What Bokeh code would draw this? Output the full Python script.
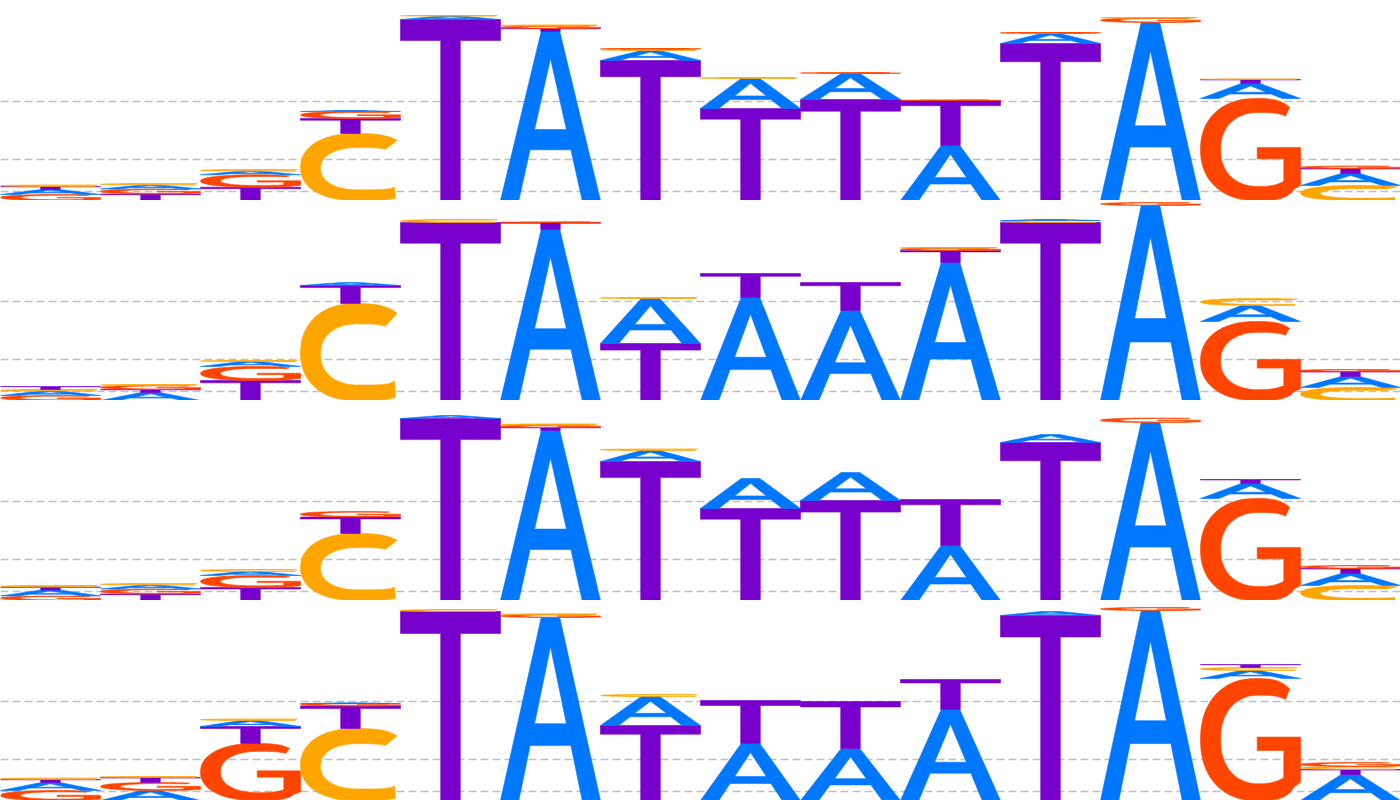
import numpy as np
from bokeh.plotting import figure
from bokeh.models import ColumnDataSource, Range1d, FixedTicker
from bokeh.layouts import column
from bokeh.embed import file_html
from bokeh.resources import INLINE

# ---------------- data (heights in bits, listed bottom -> top) ----------------
positions = list(range(1, 15))
grid_bits = [0.09, 0.41, 0.99]
letter_colors = {"A": "#0077ff", "C": "#ffa500", "G": "#ff4500", "T": "#7700cc"}

row1 = [
    [("G", 0.06), ("A", 0.05), ("T", 0.03), ("C", 0.015)],
    [("T", 0.065), ("G", 0.05), ("A", 0.04), ("C", 0.015)],
    [("T", 0.133), ("G", 0.124), ("A", 0.037), ("C", 0.015)],
    [("C", 0.67), ("T", 0.15), ("G", 0.07), ("A", 0.01)],
    [("T", 1.81), ("A", 0.035), ("C", 0.005)],
    [("A", 1.69), ("T", 0.03), ("G", 0.025), ("C", 0.01)],
    [("T", 1.40), ("A", 0.10), ("C", 0.015), ("G", 0.005)],
    [("T", 0.92), ("A", 0.30), ("C", 0.01)],
    [("T", 1.01), ("A", 0.26), ("G", 0.01)],
    [("A", 0.55), ("T", 0.45), ("G", 0.005)],
    [("T", 1.57), ("A", 0.10), ("C", 0.005), ("G", 0.005)],
    [("A", 1.78), ("G", 0.045), ("C", 0.005)],
    [("G", 1.02), ("A", 0.15), ("T", 0.04), ("C", 0.005)],
    [("C", 0.15), ("A", 0.12), ("T", 0.05), ("G", 0.025)],
]

row2 = [
    [("G", 0.05), ("A", 0.045), ("C", 0.015), ("T", 0.03)],
    [("A", 0.08), ("T", 0.03), ("G", 0.04), ("C", 0.01)],
    [("T", 0.20), ("G", 0.14), ("A", 0.05), ("C", 0.01)],
    [("C", 0.97), ("T", 0.18), ("A", 0.03)],
    [("T", 1.78), ("C", 0.03)],
    [("A", 1.71), ("T", 0.07), ("G", 0.005)],
    [("T", 0.57), ("A", 0.45), ("C", 0.01)],
    [("A", 1.03), ("T", 0.24)],
    [("A", 0.90), ("T", 0.28)],
    [("A", 1.38), ("T", 0.12), ("G", 0.025), ("C", 0.005)],
    [("T", 1.78), ("C", 0.02), ("A", 0.01)],
    [("A", 1.95), ("G", 0.03)],
    [("G", 0.79), ("A", 0.16), ("C", 0.07)],
    [("C", 0.13), ("A", 0.11), ("T", 0.05), ("G", 0.02)],
]

row3 = [
    [("G", 0.045), ("A", 0.06), ("T", 0.03), ("C", 0.015)],
    [("T", 0.065), ("G", 0.05), ("A", 0.04), ("C", 0.015)],
    [("T", 0.13), ("G", 0.12), ("A", 0.04), ("C", 0.02)],
    [("C", 0.67), ("T", 0.165), ("G", 0.055)],
    [("T", 1.82), ("A", 0.03)],
    [("A", 1.70), ("T", 0.03), ("G", 0.025), ("C", 0.01)],
    [("T", 1.39), ("A", 0.11), ("C", 0.015)],
    [("T", 0.92), ("A", 0.30)],
    [("T", 1.00), ("A", 0.28)],
    [("A", 0.55), ("T", 0.46)],
    [("T", 1.58), ("A", 0.08)],
    [("A", 1.78), ("G", 0.045)],
    [("G", 1.02), ("A", 0.15), ("T", 0.04)],
    [("C", 0.15), ("A", 0.12), ("T", 0.05), ("G", 0.03)],
]

row4 = [
    [("G", 0.10), ("A", 0.08), ("T", 0.03), ("C", 0.015)],
    [("A", 0.10), ("G", 0.08), ("T", 0.05), ("C", 0.01)],
    [("G", 0.57), ("T", 0.17), ("A", 0.06), ("C", 0.015)],
    [("C", 0.72), ("T", 0.225), ("G", 0.025), ("A", 0.005)],
    [("T", 1.89), ("C", 0.02)],
    [("A", 1.83), ("G", 0.03), ("C", 0.005)],
    [("T", 0.75), ("A", 0.29), ("C", 0.02)],
    [("A", 0.57), ("T", 0.43)],
    [("A", 0.52), ("T", 0.47)],
    [("A", 0.91), ("T", 0.30)],
    [("T", 1.85), ("A", 0.04)],
    [("A", 1.90), ("G", 0.03)],
    [("G", 1.22), ("A", 0.08), ("C", 0.03), ("T", 0.03)],
    [("A", 0.26), ("T", 0.05), ("C", 0.03), ("G", 0.04)],
]

rows = [row1, row2, row3, row4]


# ---------------- letter outlines in a unit box ----------------
def se_arc(cx, cy, rxl, rxr, ryt, ryb, n_q, a0, a1, steps=60):
    """Superellipse arc with per-quadrant radii / exponents (n_q = TR, TL, BL, BR)."""
    pts = []
    for t in np.radians(np.linspace(a0, a1, steps)):
        c, s = np.cos(t), np.sin(t)
        if c >= 0 and s >= 0:
            n, rx, ry = n_q[0], rxr, ryt
        elif c < 0 and s >= 0:
            n, rx, ry = n_q[1], rxl, ryt
        elif c < 0 and s < 0:
            n, rx, ry = n_q[2], rxl, ryb
        else:
            n, rx, ry = n_q[3], rxr, ryb
        e = 2.0 / n
        pts.append((cx + rx * np.sign(c) * abs(c) ** e,
                    cy + ry * np.sign(s) * abs(s) ** e))
    return pts


def angle_for_u(u, cx, rx, n):
    return np.degrees(np.arccos(((u - cx) / rx) ** (n / 2.0)))


def letter_rings(letter):
    if letter == "T":
        ext = [(0, 1), (1, 1), (1, 0.884), (0.598, 0.884), (0.598, 0),
               (0.402, 0), (0.402, 0.884), (0, 0.884)]
        return [ext]
    if letter == "A":
        ext = [(0, 0), (0.407, 1), (0.593, 1), (1, 0), (0.817, 0),
               (0.704, 0.30), (0.296, 0.30), (0.183, 0)]
        hole = [(0.341, 0.42), (0.659, 0.42), (0.5, 0.84)]
        return [ext, hole]
    if letter == "C":
        o_top = angle_for_u(0.967, 0.55, 0.55, 2.8)
        o_bot = angle_for_u(0.95, 0.55, 0.55, 4.2)
        outer = se_arc(0.55, 0.49, 0.55, 0.55, 0.51, 0.49, (2.8, 2.2, 2.2, 4.2),
                       o_top, 360 - o_bot)
        i_top = angle_for_u(0.85, 0.575, 0.42, 3.4)
        i_bot = angle_for_u(0.94, 0.575, 0.42, 5.0)
        inner = se_arc(0.575, 0.48, 0.375, 0.42, 0.31, 0.32, (3.4, 2.2, 2.2, 5.0),
                       360 - i_bot, i_top)
        return [outer + inner]
    if letter == "G":
        o_top = angle_for_u(0.967, 0.55, 0.55, 3.0)
        outer = se_arc(0.55, 0.5, 0.55, 0.45, 0.5, 0.5, (3.0, 2.2, 2.2, 3.5),
                       o_top, 320)
        bar = [(1.0, 0.15), (1.0, 0.52), (0.567, 0.52), (0.567, 0.41), (0.833, 0.41)]
        i_bot = angle_for_u(0.833, 0.58, 0.40, 2.5)
        i_top = angle_for_u(0.85, 0.58, 0.40, 3.2)
        inner = se_arc(0.58, 0.5, 0.38, 0.40, 0.363, 0.363, (3.2, 2.2, 2.2, 2.5),
                       360 - i_bot, i_top)
        return [outer + bar + inner]
    return []


shapes = {k: letter_rings(k) for k in "ACGT"}


def build_source(stacks):
    xs, ys, cols = [], [], []
    for pos, stack in zip(positions, stacks):
        base = 0.0
        for letter, h in stack:
            rings_x, rings_y = [], []
            for ring in shapes[letter]:
                rings_x.append([pos - 0.5 + u for u, v in ring])
                rings_y.append([base + v * h for u, v in ring])
            xs.append([rings_x])
            ys.append([rings_y])
            cols.append(letter_colors[letter])
            base += h
    return ColumnDataSource(dict(xs=xs, ys=ys, color=cols))


figs = []
for stacks in rows:
    p = figure(width=1400, height=200, x_range=Range1d(0.5, 14.5),
               y_range=Range1d(0, 2.0), output_backend="svg",
               toolbar_location=None, min_border=0)
    p.xaxis.visible = False
    p.yaxis.visible = False
    p.xgrid.visible = False
    p.ygrid.ticker = FixedTicker(ticks=grid_bits)
    p.ygrid.grid_line_color = "#c0c0c0"
    p.ygrid.grid_line_dash = "8 4"
    p.ygrid.grid_line_width = 1.3
    p.outline_line_color = None
    p.background_fill_color = "white"
    p.border_fill_color = "white"
    src = build_source(stacks)
    p.multi_polygons(xs="xs", ys="ys", fill_color="color", line_color="color",
                     line_width=0.6, source=src)
    figs.append(p)

layout = column(*figs, spacing=0)
open("out.html", "w").write(file_html(layout, INLINE))
